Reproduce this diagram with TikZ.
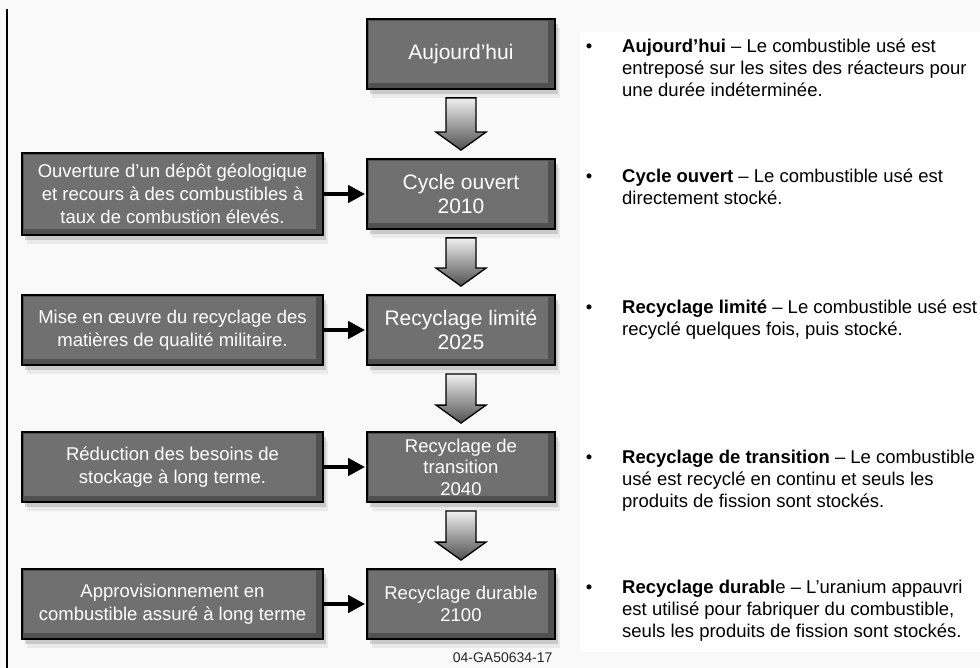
\documentclass[tikz,border=0pt]{standalone}
\usepackage{fontspec}
\setmainfont{Liberation Sans}
\usetikzlibrary{arrows.meta,calc,shadows}
\definecolor{BoxGray}{RGB}{112,112,112}
\definecolor{BoxDark}{RGB}{80,80,80}
\definecolor{PageGray}{RGB}{249,249,249}
\newcommand{\flowarrow}[2]{%
  \path[blockarrow] ($(#1.south)+(-15,8)$) -- ($(#1.south)+(15,8)$) -- ($(#2.north)+(15,-26)$)
    -- ($(#2.north)+(25,-26)$) -- ($(#2.north)+(0,-8)$) -- ($(#2.north)+(-25,-26)$)
    -- ($(#2.north)+(-15,-26)$) -- cycle;}

\begin{document}
\begin{tikzpicture}[x=1pt, y=-1pt,
    box/.style={draw=black, line width=1.8pt, fill=BoxDark, text=white, align=center, inner sep=0pt,
      path picture={\fill[BoxGray] ([shift={(2pt,-2pt)}]path picture bounding box.north west)
        rectangle ([shift={(-7pt,6pt)}]path picture bounding box.south east);},
      drop shadow={shadow xshift=3pt, shadow yshift=-5pt, opacity=.3},
      drop shadow={shadow xshift=5pt, shadow yshift=-9pt, opacity=.12}},
    stage/.style={box, minimum width=188pt, minimum height=70pt, font=\fontsize{21}{24}\selectfont},
    action/.style={box, minimum width=301pt, minimum height=70pt, font=\fontsize{18.5}{23}\selectfont},
    note/.style={anchor=north west, inner sep=0pt, align=left, font=\fontsize{18.5}{21.7}\selectfont},
    bulletmark/.style={anchor=base, inner sep=0pt, font=\fontsize{18.5}{21.7}\selectfont},
    sidearrow/.style={line width=4.5pt, -{Triangle[length=17pt,width=17pt]}, shorten >=1pt},
    blockarrow/.style={draw=black, line width=1.3pt, line join=miter, top color=gray!12, bottom color=BoxDark}]
    \useasboundingbox (0,0) rectangle (980,668);
    \fill[PageGray] (0,0) rectangle (980,668);
    \fill[white] (580,32) rectangle (980,652);
    \draw[line width=1.5pt] (7,9) -- (7,668);

    % stages of the fuel cycle
    \node[stage] (r0) at (461,54) {Aujourd’hui};
    \node[stage] (r1) at (461,194) {Cycle ouvert\\2010};
    \node[stage] (r2) at (461,330) {Recyclage limité\\2025};
    \node[stage, font=\fontsize{18.5}{21.5}\selectfont] (r3) at (461,467) {Recyclage de\\transition\\2040};
    \node[stage, font=\fontsize{18.5}{21.5}\selectfont] (r4) at (461,604) {Recyclage durable\\2100};

    % what each stage needs
    \node[action, minimum height=82pt] (l1) at (172.5,194) {Ouverture d’un dépôt géologique\\et recours à des combustibles à\\taux de combustion élevés.};
    \node[action] (l2) at (172.5,330) {Mise en œuvre du recyclage des\\matières de qualité militaire.};
    \node[action] (l3) at (172.5,467) {Réduction des besoins de\\stockage à long terme.};
    \node[action] (l4) at (172.5,604) {Approvisionnement en\\combustible assuré à long terme};

    \foreach \a/\b in {r0/r1, r1/r2, r2/r3, r3/r4}
      \flowarrow{\a}{\b};
    \foreach \i in {1,...,4}
      \draw[sidearrow] (l\i.east) -- (r\i.west);

    % descriptions
    \node[note] (d0) at (622,39) {\textbf{Aujourd’hui} – Le combustible usé est\\entreposé sur les sites des réacteurs pour\\une durée indéterminée.};
    \node[note] (d1) at (622,169) {\textbf{Cycle ouvert} – Le combustible usé est\\directement stocké.};
    \node[note] (d2) at (622,300) {\textbf{Recyclage limité} – Le combustible usé est\\recyclé quelques fois, puis stocké.};
    \node[note] (d3) at (622,450) {\textbf{Recyclage de transition} – Le combustible\\usé est recyclé en continu et seuls les\\produits de fission sont stockés.};
    \node[note] (d4) at (622,580) {\textbf{Recyclage durabl}e – L’uranium appauvri\\est utilisé pour fabriquer du combustible,\\seuls les produits de fission sont stockés.};
    \foreach \i/\y in {0/39, 1/169, 2/300, 3/450, 4/580}
      \node[bulletmark] (m\i) at (589,\y+13.5) {\textbullet};

    \node[anchor=base east, text=black!85, font=\fontsize{14}{16}\selectfont] (code) at (556,662) {04-GA50634-17};
\end{tikzpicture}
\end{document}
